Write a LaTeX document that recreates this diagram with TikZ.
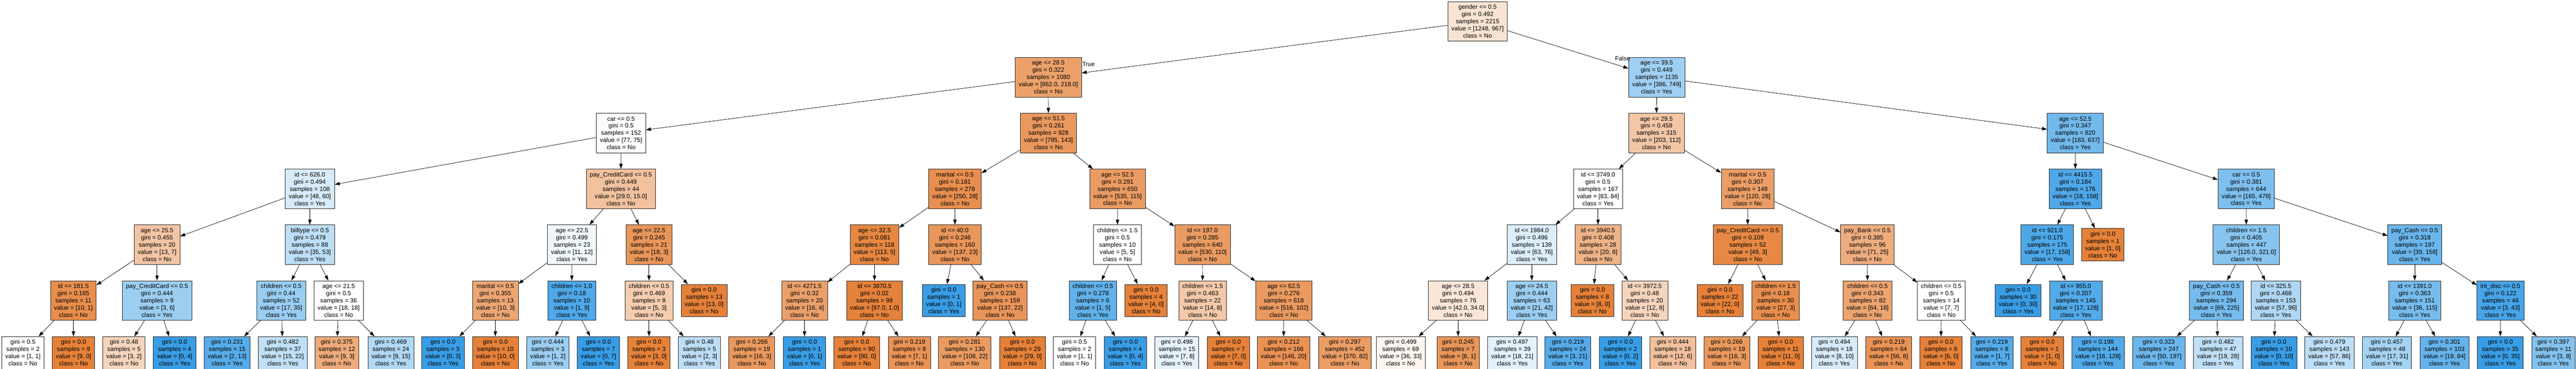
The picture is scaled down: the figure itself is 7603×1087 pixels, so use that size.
\documentclass[tikz,border=0pt]{standalone}
\usepackage{fontspec}
\setmainfont{Liberation Sans}
\usetikzlibrary{arrows.meta}
\definecolor{cno}{RGB}{229,129,57}
\definecolor{cyes}{RGB}{57,157,229}
\tikzstyle{split box}=[draw=black!85, line width=1.2pt, rectangle, align=center, inner xsep=10.5pt, inner ysep=2pt, minimum height=116.5pt, font=\fontsize{18.1}{21.2}\selectfont]
\tikzstyle{leaf box}=[split box, minimum height=95.5pt]
\tikzstyle{branch}=[->, line width=1.1pt]
\tikzstyle{branch label}=[inner sep=0pt, font=\fontsize{18.1}{21.2}\selectfont]

\begin{document}
\begin{tikzpicture}[>={Triangle[length=15pt,width=10pt]}, x=1pt, y=-1pt]
    \useasboundingbox (0,0) rectangle (7603,1087);

    % Root and first splits
    \draw (4361,63) node[split box,fill=cno!22.5] (t) {gender <= 0.5\\gini = 0.492\\samples = 2215\\value = [1248, 967]\\class = No};
    \draw (3094,227.5) node[split box,fill=cno!74.7] (tl) {age <= 28.5\\gini = 0.322\\samples = 1080\\value = [862.0, 218.0]\\class = No};
    \draw (4889.5,227.5) node[split box,fill=cyes!48.5] (tr) {age <= 39.5\\gini = 0.449\\samples = 1135\\value = [386, 749]\\class = Yes};

    % Depth 2
    \draw (1833,392) node[split box,fill=cno!2.6] (tll) {car <= 0.5\\gini = 0.5\\samples = 152\\value = [77, 75]\\class = No};
    \draw (3094.5,392) node[split box,fill=cno!81.8] (tlr) {age <= 51.5\\gini = 0.261\\samples = 928\\value = [785, 143]\\class = No};
    \draw (4889,392) node[split box,fill=cno!44.8] (trl) {age <= 29.5\\gini = 0.458\\samples = 315\\value = [203, 112]\\class = No};
    \draw (6125,392) node[split box,fill=cyes!71.3] (trr) {age <= 52.5\\gini = 0.347\\samples = 820\\value = [183, 637]\\class = Yes};

    % Depth 3
    \draw (914.5,556.5) node[split box,fill=cyes!20] (tlll) {id <= 626.0\\gini = 0.494\\samples = 108\\value = [48, 60]\\class = Yes};
    \draw (1832.5,556.5) node[split box,fill=cno!48.3] (tllr) {pay\_CreditCard <= 0.5\\gini = 0.449\\samples = 44\\value = [29.0, 15.0]\\class = No};
    \draw (2818.5,556.5) node[split box,fill=cno!88.8] (tlrl) {marital <= 0.5\\gini = 0.181\\samples = 278\\value = [250, 28]\\class = No};
    \draw (3298.5,556.5) node[split box,fill=cno!78.5] (tlrr) {age <= 52.5\\gini = 0.291\\samples = 650\\value = [535, 115]\\class = No};
    \draw (4716.5,556.5) node[split box,fill=cyes!1.2] (trll) {id <= 3749.0\\gini = 0.5\\samples = 167\\value = [83, 84]\\class = Yes};
    \draw (5158,556.5) node[split box,fill=cno!76.7] (trlr) {marital <= 0.5\\gini = 0.307\\samples = 148\\value = [120, 28]\\class = No};
    \draw (6125.5,556.5) node[split box,fill=cyes!88.6] (trrl) {id <= 4415.5\\gini = 0.184\\samples = 176\\value = [18, 158]\\class = Yes};
    \draw (6629.5,556.5) node[split box,fill=cyes!65.6] (trrr) {car <= 0.5\\gini = 0.381\\samples = 644\\value = [165, 479]\\class = Yes};

    % Depth 4
    \draw (463.5,721) node[split box,fill=cno!46.2] (tllll) {age <= 25.5\\gini = 0.455\\samples = 20\\value = [13, 7]\\class = No};
    \draw (914.5,721) node[split box,fill=cyes!34] (tlllr) {billtype <= 0.5\\gini = 0.479\\samples = 88\\value = [35, 53]\\class = Yes};
    \draw (1688,721) node[split box,fill=cyes!8.3] (tllrl) {age <= 22.5\\gini = 0.499\\samples = 23\\value = [11, 12]\\class = Yes};
    \draw (1915.5,721) node[split box,fill=cno!83.3] (tllrr) {age <= 22.5\\gini = 0.245\\samples = 21\\value = [18, 3]\\class = No};
    \draw (2581,721) node[split box,fill=cno!95.6] (tlrll) {age <= 32.5\\gini = 0.081\\samples = 118\\value = [113, 5]\\class = No};
    \draw (2818.5,721) node[split box,fill=cno!83.2] (tlrlr) {id <= 40.0\\gini = 0.246\\samples = 160\\value = [137, 23]\\class = No};
    \draw (3298,721) node[split box,fill=white] (tlrrl) {children <= 1.5\\gini = 0.5\\samples = 10\\value = [5, 5]\\class = No};
    \draw (3549,721) node[split box,fill=cno!79.2] (tlrrr) {id <= 197.0\\gini = 0.285\\samples = 640\\value = [530, 110]\\class = No};
    \draw (4521,721) node[split box,fill=cyes!17.1] (trlll) {id <= 1984.0\\gini = 0.496\\samples = 139\\value = [63, 76]\\class = Yes};
    \draw (4716.5,721) node[split box,fill=cno!60] (trllr) {id <= 3940.5\\gini = 0.408\\samples = 28\\value = [20, 8]\\class = No};
    \draw (5158.5,721) node[split box,fill=cno!93.9] (trlrl) {pay\_CreditCard <= 0.5\\gini = 0.109\\samples = 52\\value = [49, 3]\\class = No};
    \draw (5511.5,721) node[split box,fill=cno!64.8] (trlrr) {pay\_Bank <= 0.5\\gini = 0.385\\samples = 96\\value = [71, 25]\\class = No};
    \draw (6042.5,721) node[split box,fill=cyes!89.2] (trrll) {id <= 921.0\\gini = 0.175\\samples = 175\\value = [17, 158]\\class = Yes};
    \draw (6206.5,721) node[leaf box,fill=cno] (trrlr) {gini = 0.0\\samples = 1\\value = [1, 0]\\class = No};
    \draw (6630,721) node[split box,fill=cyes!60.7] (trrrl) {children <= 1.5\\gini = 0.405\\samples = 447\\value = [126.0, 321.0]\\class = Yes};
    \draw (7127,721) node[split box,fill=cyes!75.3] (trrrr) {pay\_Cash <= 0.5\\gini = 0.318\\samples = 197\\value = [39, 158]\\class = Yes};

    % Depth 5
    \draw (216.5,885.5) node[split box,fill=cno!90] (tlllll) {id <= 181.5\\gini = 0.165\\samples = 11\\value = [10, 1]\\class = No};
    \draw (463.5,885.5) node[split box,fill=cyes!50] (tllllr) {pay\_CreditCard <= 0.5\\gini = 0.444\\samples = 9\\value = [3, 6]\\class = Yes};
    \draw (830,885.5) node[split box,fill=cyes!51.4] (tlllrl) {children <= 0.5\\gini = 0.44\\samples = 52\\value = [17, 35]\\class = Yes};
    \draw (999.5,885.5) node[split box,fill=white] (tlllrr) {age <= 21.5\\gini = 0.5\\samples = 36\\value = [18, 18]\\class = No};
    \draw (1462,885.5) node[split box,fill=cno!70] (tllrll) {marital <= 0.5\\gini = 0.355\\samples = 13\\value = [10, 3]\\class = No};
    \draw (1687.5,885.5) node[split box,fill=cyes!88.9] (tllrlr) {children <= 1.0\\gini = 0.18\\samples = 10\\value = [1, 9]\\class = Yes};
    \draw (1915.5,885.5) node[split box,fill=cno!40] (tllrrl) {children <= 0.5\\gini = 0.469\\samples = 8\\value = [5, 3]\\class = No};
    \draw (2078,885.5) node[leaf box,fill=cno] (tllrrr) {gini = 0.0\\samples = 13\\value = [13, 0]\\class = No};
    \draw (2374.5,885.5) node[split box,fill=cno!75] (tlrlll) {id <= 4271.5\\gini = 0.32\\samples = 20\\value = [16, 4]\\class = No};
    \draw (2581,885.5) node[split box,fill=cno!99] (tlrllr) {id <= 3870.5\\gini = 0.02\\samples = 98\\value = [97.0, 1.0]\\class = No};
    \draw (2785.5,885.5) node[leaf box,fill=cyes] (tlrlrl) {gini = 0.0\\samples = 1\\value = [0, 1]\\class = Yes};
    \draw (2951.5,885.5) node[split box,fill=cno!83.9] (tlrlrr) {pay\_Cash <= 0.5\\gini = 0.238\\samples = 159\\value = [137, 22]\\class = No};
    \draw (3225.5,885.5) node[split box,fill=cyes!80] (tlrrll) {children <= 0.5\\gini = 0.278\\samples = 6\\value = [1, 5]\\class = Yes};
    \draw (3382.5,885.5) node[leaf box,fill=cno] (tlrrlr) {gini = 0.0\\samples = 4\\value = [4, 0]\\class = No};
    \draw (3549.5,885.5) node[split box,fill=cno!42.9] (tlrrrl) {children <= 1.5\\gini = 0.463\\samples = 22\\value = [14, 8]\\class = No};
    \draw (3789,885.5) node[split box,fill=cno!80.2] (tlrrrr) {age <= 62.5\\gini = 0.276\\samples = 618\\value = [516, 102]\\class = No};
    \draw (4303.5,885.5) node[split box,fill=cno!19] (trllll) {age <= 28.5\\gini = 0.494\\samples = 76\\value = [42.0, 34.0]\\class = No};
    \draw (4521,885.5) node[split box,fill=cyes!50] (trlllr) {age <= 24.5\\gini = 0.444\\samples = 63\\value = [21, 42]\\class = Yes};
    \draw (4700,885.5) node[leaf box,fill=cno] (trllrl) {gini = 0.0\\samples = 8\\value = [8, 0]\\class = No};
    \draw (4854.5,885.5) node[split box,fill=cno!33.3] (trllrr) {id <= 3972.5\\gini = 0.48\\samples = 20\\value = [12, 8]\\class = No};
    \draw (5076.5,885.5) node[leaf box,fill=cno] (trlrll) {gini = 0.0\\samples = 22\\value = [22, 0]\\class = No};
    \draw (5240.5,885.5) node[split box,fill=cno!88.9] (trlrlr) {children <= 1.5\\gini = 0.18\\samples = 30\\value = [27, 3]\\class = No};
    \draw (5512,885.5) node[split box,fill=cno!71.9] (trlrrl) {children <= 0.5\\gini = 0.343\\samples = 82\\value = [64, 18]\\class = No};
    \draw (5729.5,885.5) node[split box,fill=white] (trlrrr) {children <= 0.5\\gini = 0.5\\samples = 14\\value = [7, 7]\\class = No};
    \draw (5956.5,885.5) node[leaf box,fill=cyes] (trrlll) {gini = 0.0\\samples = 30\\value = [0, 30]\\class = Yes};
    \draw (6126.5,885.5) node[split box,fill=cyes!86.7] (trrllr) {id <= 955.0\\gini = 0.207\\samples = 145\\value = [17, 128]\\class = Yes};
    \draw (6541.5,885.5) node[split box,fill=cyes!69.3] (trrrll) {pay\_Cash <= 0.5\\gini = 0.359\\samples = 294\\value = [69, 225]\\class = Yes};
    \draw (6717,885.5) node[split box,fill=cyes!40.6] (trrrlr) {id <= 325.5\\gini = 0.468\\samples = 153\\value = [57, 96]\\class = Yes};
    \draw (7127,885.5) node[split box,fill=cyes!68.7] (trrrrl) {id <= 1391.0\\gini = 0.363\\samples = 151\\value = [36, 115]\\class = Yes};
    \draw (7380,885.5) node[split box,fill=cyes!93] (trrrrr) {int\_disc <= 0.5\\gini = 0.122\\samples = 46\\value = [3, 43]\\class = Yes};

    % Depth 6 (leaves)
    \draw (67.5,1039.5) node[leaf box,fill=white] (tllllll) {gini = 0.5\\samples = 2\\value = [1, 1]\\class = No};
    \draw (217,1039.5) node[leaf box,fill=cno] (tlllllr) {gini = 0.0\\samples = 9\\value = [9, 0]\\class = No};
    \draw (366,1039.5) node[leaf box,fill=cno!33.3] (tllllrl) {gini = 0.48\\samples = 5\\value = [3, 2]\\class = No};
    \draw (515.5,1039.5) node[leaf box,fill=cyes] (tllllrr) {gini = 0.0\\samples = 4\\value = [0, 4]\\class = Yes};
    \draw (670.5,1039.5) node[leaf box,fill=cyes!84.6] (tlllrll) {gini = 0.231\\samples = 15\\value = [2, 13]\\class = Yes};
    \draw (834.5,1039.5) node[leaf box,fill=cyes!31.8] (tlllrlr) {gini = 0.482\\samples = 37\\value = [15, 22]\\class = Yes};
    \draw (994,1039.5) node[leaf box,fill=cno!66.7] (tlllrrl) {gini = 0.375\\samples = 12\\value = [9, 3]\\class = No};
    \draw (1153.5,1039.5) node[leaf box,fill=cyes!40] (tlllrrr) {gini = 0.469\\samples = 24\\value = [9, 15]\\class = Yes};
    \draw (1307.5,1039.5) node[leaf box,fill=cyes] (tllrlll) {gini = 0.0\\samples = 3\\value = [0, 3]\\class = Yes};
    \draw (1462,1039.5) node[leaf box,fill=cno] (tllrllr) {gini = 0.0\\samples = 10\\value = [10, 0]\\class = No};
    \draw (1617,1039.5) node[leaf box,fill=cyes!50] (tllrlrl) {gini = 0.444\\samples = 3\\value = [1, 2]\\class = Yes};
    \draw (1766.5,1039.5) node[leaf box,fill=cyes] (tllrlrr) {gini = 0.0\\samples = 7\\value = [0, 7]\\class = Yes};
    \draw (1915.5,1039.5) node[leaf box,fill=cno] (tllrrll) {gini = 0.0\\samples = 3\\value = [3, 0]\\class = No};
    \draw (2064.5,1039.5) node[leaf box,fill=cyes!33.3] (tllrrlr) {gini = 0.48\\samples = 5\\value = [2, 3]\\class = Yes};
    \draw (2219,1039.5) node[leaf box,fill=cno!81.3] (tlrllll) {gini = 0.266\\samples = 19\\value = [16, 3]\\class = No};
    \draw (2374.5,1039.5) node[leaf box,fill=cyes] (tlrlllr) {gini = 0.0\\samples = 1\\value = [0, 1]\\class = Yes};
    \draw (2528.5,1039.5) node[leaf box,fill=cno] (tlrllrl) {gini = 0.0\\samples = 90\\value = [90, 0]\\class = No};
    \draw (2684,1039.5) node[leaf box,fill=cno!85.7] (tlrllrr) {gini = 0.219\\samples = 8\\value = [7, 1]\\class = No};
    \draw (2847.5,1039.5) node[leaf box,fill=cno!79.6] (tlrlrrl) {gini = 0.281\\samples = 130\\value = [108, 22]\\class = No};
    \draw (3017.5,1039.5) node[leaf box,fill=cno] (tlrlrrr) {gini = 0.0\\samples = 29\\value = [29, 0]\\class = No};
    \draw (3171.5,1039.5) node[leaf box,fill=white] (tlrrlll) {gini = 0.5\\samples = 2\\value = [1, 1]\\class = No};
    \draw (3321.5,1039.5) node[leaf box,fill=cyes] (tlrrllr) {gini = 0.0\\samples = 4\\value = [0, 4]\\class = Yes};
    \draw (3473.5,1039.5) node[leaf box,fill=cyes!12.5] (tlrrrll) {gini = 0.498\\samples = 15\\value = [7, 8]\\class = Yes};
    \draw (3625.5,1039.5) node[leaf box,fill=cno] (tlrrrlr) {gini = 0.0\\samples = 7\\value = [7, 0]\\class = No};
    \draw (3788.5,1039.5) node[leaf box,fill=cno!86.3] (tlrrrrl) {gini = 0.212\\samples = 166\\value = [146, 20]\\class = No};
    \draw (3969.5,1039.5) node[leaf box,fill=cno!77.8] (tlrrrrr) {gini = 0.297\\samples = 452\\value = [370, 82]\\class = No};
    \draw (4134,1039.5) node[leaf box,fill=cno!8.3] (trlllll) {gini = 0.499\\samples = 69\\value = [36, 33]\\class = No};
    \draw (4303.5,1039.5) node[leaf box,fill=cno!83.3] (trllllr) {gini = 0.245\\samples = 7\\value = [6, 1]\\class = No};
    \draw (4463.5,1039.5) node[leaf box,fill=cyes!14.3] (trlllrl) {gini = 0.497\\samples = 39\\value = [18, 21]\\class = Yes};
    \draw (4627.5,1039.5) node[leaf box,fill=cyes!85.7] (trlllrr) {gini = 0.219\\samples = 24\\value = [3, 21]\\class = Yes};
    \draw (4782.5,1039.5) node[leaf box,fill=cyes] (trllrrl) {gini = 0.0\\samples = 2\\value = [0, 2]\\class = Yes};
    \draw (4937,1039.5) node[leaf box,fill=cno!50] (trllrrr) {gini = 0.444\\samples = 18\\value = [12, 6]\\class = No};
    \draw (5096.5,1039.5) node[leaf box,fill=cno!81.3] (trlrlrl) {gini = 0.266\\samples = 19\\value = [16, 3]\\class = No};
    \draw (5255.5,1039.5) node[leaf box,fill=cno] (trlrlrr) {gini = 0.0\\samples = 11\\value = [11, 0]\\class = No};
    \draw (5414,1039.5) node[leaf box,fill=cyes!20] (trlrrll) {gini = 0.494\\samples = 18\\value = [8, 10]\\class = Yes};
    \draw (5574.5,1039.5) node[leaf box,fill=cno!85.7] (trlrrlr) {gini = 0.219\\samples = 64\\value = [56, 8]\\class = No};
    \draw (5728.5,1039.5) node[leaf box,fill=cno] (trlrrrl) {gini = 0.0\\samples = 6\\value = [6, 0]\\class = No};
    \draw (5879,1039.5) node[leaf box,fill=cyes!85.7] (trlrrrr) {gini = 0.219\\samples = 8\\value = [1, 7]\\class = Yes};
    \draw (6027.5,1039.5) node[leaf box,fill=cno] (trrllrl) {gini = 0.0\\samples = 1\\value = [1, 0]\\class = No};
    \draw (6192,1039.5) node[leaf box,fill=cyes!87.5] (trrllrr) {gini = 0.198\\samples = 144\\value = [16, 128]\\class = Yes};
    \draw (6371.5,1039.5) node[leaf box,fill=cyes!74.6] (trrrlll) {gini = 0.323\\samples = 247\\value = [50, 197]\\class = Yes};
    \draw (6546.5,1039.5) node[leaf box,fill=cyes!32.1] (trrrllr) {gini = 0.482\\samples = 47\\value = [19, 28]\\class = Yes};
    \draw (6711,1039.5) node[leaf box,fill=cyes] (trrrlrl) {gini = 0.0\\samples = 10\\value = [0, 10]\\class = Yes};
    \draw (6875,1039.5) node[leaf box,fill=cyes!33.7] (trrrlrr) {gini = 0.479\\samples = 143\\value = [57, 86]\\class = Yes};
    \draw (7045,1039.5) node[leaf box,fill=cyes!45.2] (trrrrll) {gini = 0.457\\samples = 48\\value = [17, 31]\\class = Yes};
    \draw (7215,1039.5) node[leaf box,fill=cyes!77.4] (trrrrlr) {gini = 0.301\\samples = 103\\value = [19, 84]\\class = Yes};
    \draw (7379.5,1039.5) node[leaf box,fill=cyes] (trrrrrl) {gini = 0.0\\samples = 35\\value = [0, 35]\\class = Yes};
    \draw (7536,1039.5) node[leaf box,fill=cyes!62.5] (trrrrrr) {gini = 0.397\\samples = 11\\value = [3, 8]\\class = Yes};

    % Branches
    \draw[branch] (t) -- (tl);
    \draw[branch] (t) -- (tr);
    \draw[branch] (tl) -- (tll);
    \draw[branch] (tl) -- (tlr);
    \draw[branch] (tr) -- (trl);
    \draw[branch] (tr) -- (trr);
    \draw[branch] (tll) -- (tlll);
    \draw[branch] (tll) -- (tllr);
    \draw[branch] (tlr) -- (tlrl);
    \draw[branch] (tlr) -- (tlrr);
    \draw[branch] (trl) -- (trll);
    \draw[branch] (trl) -- (trlr);
    \draw[branch] (trr) -- (trrl);
    \draw[branch] (trr) -- (trrr);
    \draw[branch] (tlll) -- (tllll);
    \draw[branch] (tlll) -- (tlllr);
    \draw[branch] (tllr) -- (tllrl);
    \draw[branch] (tllr) -- (tllrr);
    \draw[branch] (tlrl) -- (tlrll);
    \draw[branch] (tlrl) -- (tlrlr);
    \draw[branch] (tlrr) -- (tlrrl);
    \draw[branch] (tlrr) -- (tlrrr);
    \draw[branch] (trll) -- (trlll);
    \draw[branch] (trll) -- (trllr);
    \draw[branch] (trlr) -- (trlrl);
    \draw[branch] (trlr) -- (trlrr);
    \draw[branch] (trrl) -- (trrll);
    \draw[branch] (trrl) -- (trrlr);
    \draw[branch] (trrr) -- (trrrl);
    \draw[branch] (trrr) -- (trrrr);
    \draw[branch] (tllll) -- (tlllll);
    \draw[branch] (tllll) -- (tllllr);
    \draw[branch] (tlllr) -- (tlllrl);
    \draw[branch] (tlllr) -- (tlllrr);
    \draw[branch] (tllrl) -- (tllrll);
    \draw[branch] (tllrl) -- (tllrlr);
    \draw[branch] (tllrr) -- (tllrrl);
    \draw[branch] (tllrr) -- (tllrrr);
    \draw[branch] (tlrll) -- (tlrlll);
    \draw[branch] (tlrll) -- (tlrllr);
    \draw[branch] (tlrlr) -- (tlrlrl);
    \draw[branch] (tlrlr) -- (tlrlrr);
    \draw[branch] (tlrrl) -- (tlrrll);
    \draw[branch] (tlrrl) -- (tlrrlr);
    \draw[branch] (tlrrr) -- (tlrrrl);
    \draw[branch] (tlrrr) -- (tlrrrr);
    \draw[branch] (trlll) -- (trllll);
    \draw[branch] (trlll) -- (trlllr);
    \draw[branch] (trllr) -- (trllrl);
    \draw[branch] (trllr) -- (trllrr);
    \draw[branch] (trlrl) -- (trlrll);
    \draw[branch] (trlrl) -- (trlrlr);
    \draw[branch] (trlrr) -- (trlrrl);
    \draw[branch] (trlrr) -- (trlrrr);
    \draw[branch] (trrll) -- (trrlll);
    \draw[branch] (trrll) -- (trrllr);
    \draw[branch] (trrrl) -- (trrrll);
    \draw[branch] (trrrl) -- (trrrlr);
    \draw[branch] (trrrr) -- (trrrrl);
    \draw[branch] (trrrr) -- (trrrrr);
    \draw[branch] (tlllll) -- (tllllll);
    \draw[branch] (tlllll) -- (tlllllr);
    \draw[branch] (tllllr) -- (tllllrl);
    \draw[branch] (tllllr) -- (tllllrr);
    \draw[branch] (tlllrl) -- (tlllrll);
    \draw[branch] (tlllrl) -- (tlllrlr);
    \draw[branch] (tlllrr) -- (tlllrrl);
    \draw[branch] (tlllrr) -- (tlllrrr);
    \draw[branch] (tllrll) -- (tllrlll);
    \draw[branch] (tllrll) -- (tllrllr);
    \draw[branch] (tllrlr) -- (tllrlrl);
    \draw[branch] (tllrlr) -- (tllrlrr);
    \draw[branch] (tllrrl) -- (tllrrll);
    \draw[branch] (tllrrl) -- (tllrrlr);
    \draw[branch] (tlrlll) -- (tlrllll);
    \draw[branch] (tlrlll) -- (tlrlllr);
    \draw[branch] (tlrllr) -- (tlrllrl);
    \draw[branch] (tlrllr) -- (tlrllrr);
    \draw[branch] (tlrlrr) -- (tlrlrrl);
    \draw[branch] (tlrlrr) -- (tlrlrrr);
    \draw[branch] (tlrrll) -- (tlrrlll);
    \draw[branch] (tlrrll) -- (tlrrllr);
    \draw[branch] (tlrrrl) -- (tlrrrll);
    \draw[branch] (tlrrrl) -- (tlrrrlr);
    \draw[branch] (tlrrrr) -- (tlrrrrl);
    \draw[branch] (tlrrrr) -- (tlrrrrr);
    \draw[branch] (trllll) -- (trlllll);
    \draw[branch] (trllll) -- (trllllr);
    \draw[branch] (trlllr) -- (trlllrl);
    \draw[branch] (trlllr) -- (trlllrr);
    \draw[branch] (trllrr) -- (trllrrl);
    \draw[branch] (trllrr) -- (trllrrr);
    \draw[branch] (trlrlr) -- (trlrlrl);
    \draw[branch] (trlrlr) -- (trlrlrr);
    \draw[branch] (trlrrl) -- (trlrrll);
    \draw[branch] (trlrrl) -- (trlrrlr);
    \draw[branch] (trlrrr) -- (trlrrrl);
    \draw[branch] (trlrrr) -- (trlrrrr);
    \draw[branch] (trrllr) -- (trrllrl);
    \draw[branch] (trrllr) -- (trrllrr);
    \draw[branch] (trrrll) -- (trrrlll);
    \draw[branch] (trrrll) -- (trrrllr);
    \draw[branch] (trrrlr) -- (trrrlrl);
    \draw[branch] (trrrlr) -- (trrrlrr);
    \draw[branch] (trrrrl) -- (trrrrll);
    \draw[branch] (trrrrl) -- (trrrrlr);
    \draw[branch] (trrrrr) -- (trrrrrl);
    \draw[branch] (trrrrr) -- (trrrrrr);

    % Root branch labels
    \draw ([yshift=-20pt]tl.north east) node[branch label,anchor=west,xshift=2pt] (lbltrue) {True};
    \draw ([xshift=5pt,yshift=-3pt]tr.north west) node[branch label,anchor=east] (lblfalse) {False};

\end{tikzpicture}
\end{document}
